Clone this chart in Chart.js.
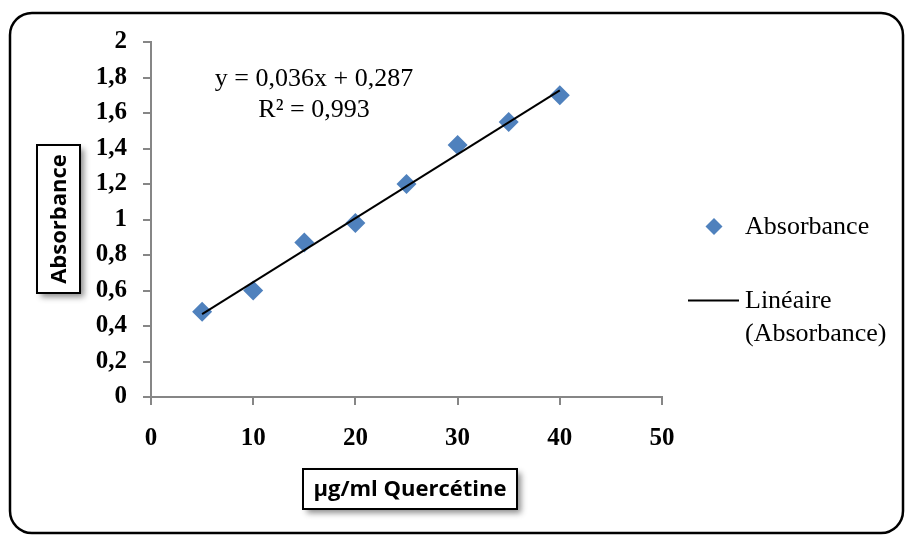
<!DOCTYPE html>
<html>
<head>
<meta charset="utf-8">
<script src="https://cdn.jsdelivr.net/npm/chart.js@4.4.0/dist/chart.umd.min.js"></script>
<style>
  body { margin: 0; background: #fff; }
  #wrap { width: 907px; height: 536px; position: relative; }
</style>
</head>
<body>
<div id="wrap"><canvas id="myChart"></canvas></div>
<script>
(function () {
    "use strict";

    // concentrations (µg/ml) and measured absorbance
    const concentrations = [5, 10, 15, 20, 25, 30, 35, 40];
    const absorbance = [0.48, 0.60, 0.87, 0.98, 1.20, 1.42, 1.55, 1.70];
    // end points of the linear trend line
    const trendX = [5, 40];
    const trendY = [0.467, 1.727];
    const xTicks = [0, 10, 20, 30, 40, 50];
    const yTicks = [0, 0.2, 0.4, 0.6, 0.8, 1, 1.2, 1.4, 1.6, 1.8, 2];

    const blue = '#4F81BD';
    const axisGrey = '#868686';
    const serif = '"Liberation Serif", "Times New Roman", serif';

    function toPoints(xs, ys) {
        return xs.map(function (x, i) { return { x: x, y: ys[i] }; });
    }

    function fmt(v) {
        v = Math.round(v * 10) / 10;
        return String(v).replace('.', ',');
    }

    function boxedText(ctx, x, y, w, h, text, rotate) {
        ctx.save();
        ctx.shadowColor = 'rgba(0,0,0,0.45)';
        ctx.shadowBlur = 6;
        ctx.shadowOffsetX = 4;
        ctx.shadowOffsetY = 4;
        ctx.fillStyle = '#fff';
        ctx.fillRect(x, y, w, h);
        ctx.restore();
        ctx.save();
        ctx.strokeStyle = '#000';
        ctx.lineWidth = 2;
        ctx.strokeRect(x, y, w, h);
        ctx.fillStyle = '#000';
        ctx.font = 'bold 22px "Open Sans", sans-serif';
        ctx.textAlign = 'center';
        ctx.textBaseline = 'middle';
        ctx.translate(x + w / 2, y + h / 2);
        if (rotate) ctx.rotate(-Math.PI / 2);
        ctx.fillText(text, 0, 1);
        ctx.restore();
    }

    const decorations = {
        id: 'decorations',
        beforeDraw: function (chart) {
            var ctx = chart.ctx;
            ctx.save();
            ctx.fillStyle = '#fff';
            ctx.fillRect(0, 0, chart.width, chart.height);
            ctx.strokeStyle = '#000';
            ctx.lineWidth = 2.5;
            ctx.beginPath();
            ctx.roundRect(10, 13, 893, 520, 22);
            ctx.stroke();
            ctx.restore();
        },
        afterDraw: function (chart) {
            var ctx = chart.ctx;
            ctx.save();
            // equation of the trend line
            ctx.fillStyle = '#000';
            ctx.font = '26px ' + serif;
            ctx.textAlign = 'center';
            ctx.textBaseline = 'middle';
            ctx.fillText('y = 0,036x + 0,287', 314, 79);
            ctx.fillText('R\u00b2 = 0,993', 314, 110);

            // legend
            ctx.fillStyle = blue;
            ctx.beginPath();
            ctx.moveTo(714, 218);
            ctx.lineTo(722.5, 226.5);
            ctx.lineTo(714, 235);
            ctx.lineTo(705.5, 226.5);
            ctx.closePath();
            ctx.fill();
            ctx.fillStyle = '#000';
            ctx.textAlign = 'left';
            ctx.fillText('Absorbance', 745, 227);
            ctx.strokeStyle = '#000';
            ctx.lineWidth = 2;
            ctx.beginPath();
            ctx.moveTo(688, 300.5);
            ctx.lineTo(739, 300.5);
            ctx.stroke();
            ctx.fillText('Lin\u00e9aire', 745, 301);
            ctx.fillText('(Absorbance)', 745, 334);
            ctx.restore();

            // axis titles in boxes
            boxedText(ctx, 37, 145, 43, 148, 'Absorbance', true);
            boxedText(ctx, 303, 469, 214, 40, '\u00b5g/ml Querc\u00e9tine', false);
        }
    };

    var ctx = document.getElementById('myChart').getContext('2d');
    var chart = new Chart(ctx, {
        type: 'scatter',
        data: {
            datasets: [{
                label: 'Absorbance',
                data: toPoints(concentrations, absorbance),
                pointStyle: 'rectRot',
                pointRadius: 10,
                pointHoverRadius: 10,
                backgroundColor: blue,
                borderColor: blue,
                borderWidth: 0,
                order: 2
            },
            {
                label: 'Linéaire (Absorbance)',
                data: toPoints(trendX, trendY),
                showLine: true,
                pointRadius: 0,
                borderColor: '#000',
                borderWidth: 2,
                order: 1
            }]
        },
        options: {
            responsive: true,
            maintainAspectRatio: false,
            animation: false,
            layout: { padding: { top: 42, right: 245, left: 0, bottom: 0 } },
            plugins: {
                legend: { display: false },
                tooltip: { enabled: false }
            },
            scales: {
                x: {
                    type: 'linear',
                    min: 0,
                    max: 50,
                    afterFit: function (scale) { scale.height = 139; },
                    afterBuildTicks: function (scale) {
                        scale.ticks = xTicks.map(function (v) { return { value: v }; });
                    },
                    border: { color: axisGrey, width: 2 },
                    grid: { drawOnChartArea: false, color: axisGrey, lineWidth: 2, tickLength: 8 },
                    ticks: {
                        color: '#000',
                        padding: 19,
                        font: { family: serif, size: 25, weight: 'bold' }
                    }
                },
                y: {
                    type: 'linear',
                    min: 0,
                    max: 2,
                    afterFit: function (scale) { scale.width = 151; },
                    afterBuildTicks: function (scale) {
                        scale.ticks = yTicks.map(function (v) { return { value: v }; });
                    },
                    border: { color: axisGrey, width: 2 },
                    grid: { drawOnChartArea: false, color: axisGrey, lineWidth: 2, tickLength: 8 },
                    ticks: {
                        color: '#000',
                        padding: 16,
                        font: { family: serif, size: 25, weight: 'bold' },
                        callback: function (v) { return fmt(v); }
                    }
                }
            }
        },
        plugins: [decorations]
    });
})();
</script>
</body>
</html>
